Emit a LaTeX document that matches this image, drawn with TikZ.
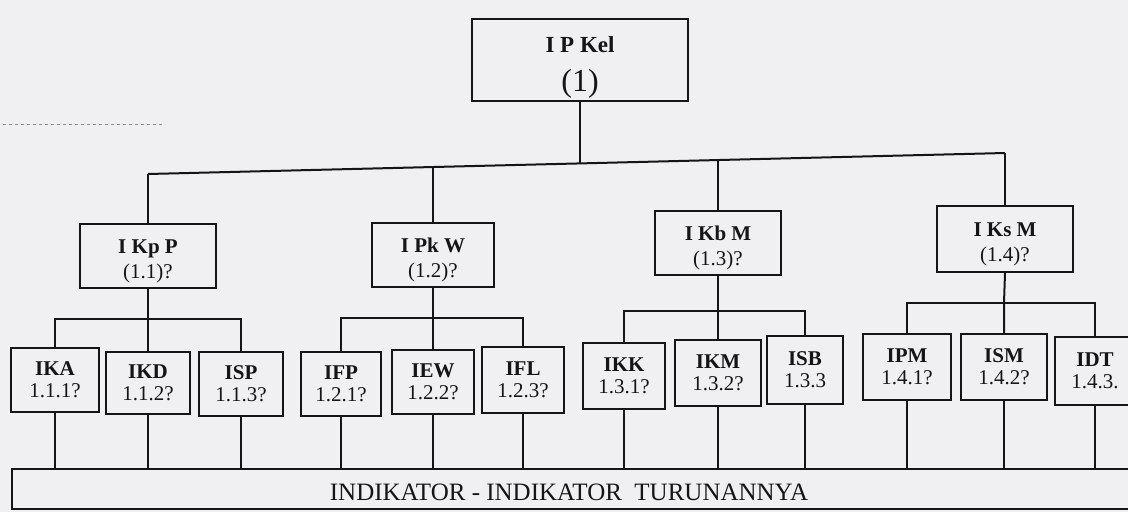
\documentclass[tikz,border=0pt]{standalone}
\usepackage{fontspec}
\setmainfont{Liberation Serif}
\definecolor{paper}{HTML}{F0EFF2}
\definecolor{inkc}{HTML}{151515}
\definecolor{smudge}{HTML}{8A8A90}
\newcommand\twolines[3]{\raisebox{-#1}[\height][\depth]{\begin{tabular}{@{}c@{}}#2\\#3\end{tabular}}}
\begin{document}
\begin{tikzpicture}[x=1pt,y=-1pt,
  ink/.style={draw=inkc, line width=2pt},
  topbox/.style={ink, inner sep=0pt, align=center, text=inkc},
  midbox/.style={ink, inner sep=0pt, text=inkc, font=\fontsize{21}{24.5}\selectfont},
  leaf/.style={ink, inner sep=0pt, text=inkc, font=\fontsize{21}{22.5}\selectfont},
  wire/.style={draw=inkc, line width=2pt}]
\useasboundingbox[fill=paper] (0,0) rectangle (1128,512);

% faint scan mark
\coordinate (s1) at (3,124);
\coordinate (s2) at (165,124);
\draw[smudge, dashed, line width=0.6pt] (s1) -- (s2);

% root
\node[topbox, minimum width=216pt, minimum height=82pt, font=\fontsize{23}{39}\selectfont] (root) at (580,60)
  {\twolines{4.5pt}{\textbf{I P Kel}}{\fontsize{32}{39}\selectfont (1)}};

% level 2
\node[midbox, minimum width=136pt, minimum height=64pt] (kpp) at (148,256) {\twolines{5pt}{\textbf{I Kp P}}{(1.1)?}};
\node[midbox, minimum width=122pt, minimum height=64pt] (pkw) at (433,255) {\twolines{5pt}{\textbf{I Pk W}}{(1.2)?}};
\node[midbox, minimum width=126pt, minimum height=64pt] (kbm) at (718,243) {\twolines{5pt}{\textbf{I Kb M}}{(1.3)?}};
\node[midbox, minimum width=136pt, minimum height=66pt] (ksm) at (1005,239) {\twolines{5pt}{\textbf{I Ks M}}{(1.4)?}};

% level 3
\node[leaf, minimum width=88pt, minimum height=64pt] (ika) at (55,380) {\twolines{2pt}{\textbf{IKA}}{1.1.1?}};
\node[leaf, minimum width=84pt, minimum height=62pt] (ikd) at (148,383) {\twolines{2pt}{\textbf{IKD}}{1.1.2?}};
\node[leaf, minimum width=84pt, minimum height=64pt] (isp) at (241,384) {\twolines{2pt}{\textbf{ISP}}{1.1.3?}};
\node[leaf, minimum width=80pt, minimum height=64pt] (ifp) at (341,384) {\twolines{2pt}{\textbf{IFP}}{1.2.1?}};
\node[leaf, minimum width=82pt, minimum height=64pt] (iew) at (433,382) {\twolines{2pt}{\textbf{IEW}}{1.2.2?}};
\node[leaf, minimum width=82pt, minimum height=66pt] (ifl) at (523,380) {\twolines{2pt}{\textbf{IFL}}{1.2.3?}};
\node[leaf, minimum width=82pt, minimum height=66pt] (ikk) at (624,376) {\twolines{2pt}{\textbf{IKK}}{1.3.1?}};
\node[leaf, minimum width=86pt, minimum height=66pt] (ikm) at (718,373) {\twolines{2pt}{\textbf{IKM}}{1.3.2?}};
\node[leaf, minimum width=76pt, minimum height=68pt] (isb) at (805,370) {\twolines{2pt}{\textbf{ISB}}{1.3.3}};
\node[leaf, minimum width=88pt, minimum height=66pt] (ipm) at (907,367) {\twolines{2pt}{\textbf{IPM}}{1.4.1?}};
\node[leaf, minimum width=86pt, minimum height=66pt] (ism) at (1004,367) {\twolines{2pt}{\textbf{ISM}}{1.4.2?}};
\node[leaf, minimum width=80pt, minimum height=68pt] (idt) at (1095,371) {\twolines{2pt}{\textbf{IDT}}{1.4.3.}};

% bottom box
\node[ink, inner sep=0pt, minimum width=1130pt, minimum height=40pt] (bot) at (577,489) {};
\node[text=inkc, inner sep=0pt, font=\fontsize{25}{25}\selectfont] (bottxt) at (569,492)
  {INDIKATOR - INDIKATOR\ \ TURUNANNYA};

% main bus
\coordinate (m1) at (148,174);
\coordinate (m2) at (433,167);
\coordinate (mt) at (580,163.5);
\coordinate (m3) at (718,160);
\coordinate (m4) at (1005,153);
\draw[wire] (root.south) -- (mt);
\draw[wire] (m1) -- (m4);
\draw[wire] (kpp.north) -- (m1);
\draw[wire] (pkw.north) -- (m2);
\draw[wire] (kbm.north) -- (m3);
\draw[wire] (ksm.north) -- (m4);

% group buses
\coordinate (b1) at (148,319);
\coordinate (b2) at (433,318);
\coordinate (b3) at (718,311);
\coordinate (b4) at (1004,303);
\draw[wire] (kpp.south) -- (b1) -- (ikd.north);
\draw[wire] (ika.north) |- (b1) -| (isp.north);
\draw[wire] (pkw.south) -- (b2) -- (iew.north);
\draw[wire] (ifp.north) |- (b2) -| (ifl.north);
\draw[wire] (kbm.south) -- (b3) -- (ikm.north);
\draw[wire] (ikk.north) |- (b3) -| (isb.north);
\draw[wire] (ksm.south) -- (b4) -- (ism.north);
\draw[wire] (ipm.north) |- (b4) -| (idt.north);

% down to bottom box
\foreach \n in {ika,ikd,isp,ifp,iew,ifl,ikk,ikm,isb,ipm,ism,idt}
  \draw[wire] (\n.south) -- (\n.south |- bot.north);
\end{tikzpicture}
\end{document}
